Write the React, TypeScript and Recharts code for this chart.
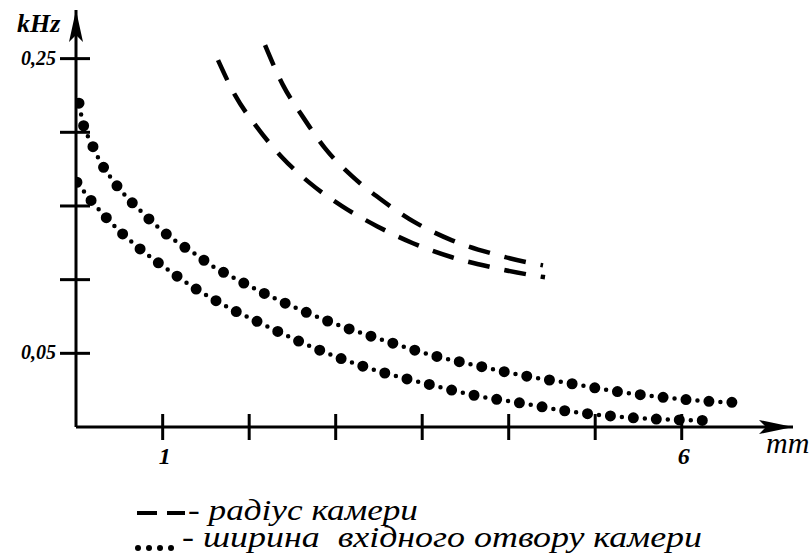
import React from 'react';
import { LineChart, Line, XAxis, YAxis, ReferenceDot } from 'recharts';

const FONT = '"Liberation Serif", Tinos, "Times New Roman", "DejaVu Serif", serif';

// x in mm, y in kHz
const xTicks = [1, 11 / 6, 8 / 3, 3.5, 13 / 3, 31 / 6, 6];
const xTickLabels = ['1', '', '', '', '', '', '6'];
const yTicks = [0.05, 0.1, 0.15, 0.2, 0.25];
const yTickLabels = ['0,05', '', '', '', '0,25'];

// радіус камери (two dashed curves)
const radiusLowX = [1.533, 1.697, 1.908, 2.149, 2.419, 2.727, 3.064, 3.411, 3.787, 4.172, 4.567, 4.683];
const radiusLowY = [0.249, 0.2252, 0.2035, 0.1831, 0.1655, 0.1499, 0.1363, 0.1247, 0.1152, 0.1084, 0.1029, 0.1016];
const radiusHighX = [1.986, 2.159, 2.352, 2.563, 2.824, 3.113, 3.431, 3.787, 4.163, 4.558, 4.664];
const radiusHighY = [0.2592, 0.232, 0.2103, 0.1892, 0.1702, 0.1539, 0.1389, 0.1267, 0.1179, 0.1111, 0.1097];

// ширина вхідного отвору камери (two dotted curves)
const widthHighX = [0.194, 0.232, 0.309, 0.396, 0.512, 0.646, 0.791, 0.955, 1.128, 1.302, 1.485, 1.677, 1.88, 2.294, 2.699, 3.132, 3.566, 4.018, 4.471, 4.924, 5.377, 5.839, 6.292, 6.533];
const widthHighY = [0.2198, 0.2062, 0.1933, 0.1804, 0.1681, 0.1566, 0.1464, 0.1356, 0.126, 0.1179, 0.109, 0.1016, 0.0941, 0.0805, 0.069, 0.0588, 0.0493, 0.0418, 0.035, 0.0296, 0.0241, 0.02, 0.0173, 0.0166];
const widthLowX = [0.174, 0.3, 0.444, 0.598, 0.752, 0.926, 1.099, 1.282, 1.475, 1.668, 1.87, 2.275, 2.689, 3.123, 3.566, 4.009, 4.471, 4.924, 5.377, 5.839, 6.301];
const widthLowY = [0.1661, 0.1546, 0.143, 0.1321, 0.1226, 0.1131, 0.1043, 0.0954, 0.0873, 0.0798, 0.073, 0.0594, 0.0472, 0.037, 0.0289, 0.0214, 0.016, 0.0105, 0.0071, 0.0051, 0.0044];

const X_DOMAIN: [number, number] = [0.165, 7.072];
const Y_DOMAIN: [number, number] = [0, 0.283];

const toPoints = (xs: number[], ys: number[]) => xs.map((x, i) => ({ x, y: ys[i] }));

const radiusLow = toPoints(radiusLowX, radiusLowY);
const radiusHigh = toPoints(radiusHighX, radiusHighY);
const widthHigh = toPoints(widthHighX, widthHighY);
const widthLow = toPoints(widthLowX, widthLowY);

const boldItalic = { fontFamily: FONT, fontWeight: 'bold' as const, fontStyle: 'italic' as const };
const italic = { fontFamily: FONT, fontWeight: 'normal' as const, fontStyle: 'italic' as const, whiteSpace: 'pre' as const };

function XTick(props: any) {
  const { x, y, payload } = props;
  const label = xTickLabels[xTicks.indexOf(payload.value)] || '';
  return (
    <g>
      <line x1={x} x2={x} y1={y - 13} y2={y + 13} stroke="#000" strokeWidth={3} />
      {label && (
        <text x={x + 2} y={y + 37} textAnchor="middle" fontSize={24} fill="#000" style={boldItalic}>
          {label}
        </text>
      )}
    </g>
  );
}

function YTick(props: any) {
  const { x, y, payload } = props;
  const label = yTickLabels[yTicks.indexOf(payload.value)] || '';
  return (
    <g>
      <line x1={x - 16} x2={x + 14} y1={y} y2={y} stroke="#000" strokeWidth={3} />
      {label && (
        <text x={x - 20} y={y + 6} textAnchor="end" fontSize={20} fill="#000" style={boldItalic}>
          {label}
        </text>
      )}
    </g>
  );
}

const arrowRight = (p: any) => (
  <polygon points={`${p.cx},${p.cy} ${p.cx - 34},${p.cy - 7} ${p.cx - 27},${p.cy} ${p.cx - 34},${p.cy + 7}`} fill="#000" />
);
const arrowUp = (p: any) => (
  <polygon points={`${p.cx},${p.cy} ${p.cx - 7},${p.cy + 32} ${p.cx},${p.cy + 25} ${p.cx + 7},${p.cy + 32}`} fill="#000" />
);

export default function App() {
  return (
    <div style={{ position: 'absolute', left: 0, top: 0, width: 811, height: 555, background: '#fff' }}>
      <LineChart width={811} height={555} margin={{ top: 10, right: 18, bottom: 0, left: 0 }}>
        <XAxis
          type="number"
          dataKey="x"
          domain={X_DOMAIN}
          allowDataOverflow
          ticks={xTicks}
          interval={0}
          height={128}
          tickSize={0}
          tickMargin={0}
          tickLine={false}
          axisLine={{ stroke: '#000', strokeWidth: 3 }}
          tick={<XTick />}
          label={({ viewBox }: any) => (
            <text x={viewBox.x + viewBox.width - 27} y={viewBox.y + 26} fontSize={30} fill="#000" style={italic}>
              mm
            </text>
          )}
        />
        <YAxis
          type="number"
          domain={Y_DOMAIN}
          allowDataOverflow
          ticks={yTicks}
          interval={0}
          width={76}
          tickSize={0}
          tickMargin={0}
          tickLine={false}
          axisLine={{ stroke: '#000', strokeWidth: 3 }}
          tick={<YTick />}
          label={({ viewBox }: any) => (
            <text x={viewBox.x + viewBox.width - 59} y={viewBox.y + 22} fontSize={26} fill="#000" style={boldItalic}>
              kHz
            </text>
          )}
        />
        <Line data={radiusLow} dataKey="y" type="monotone" stroke="#000" strokeWidth={4.5} strokeDasharray="22 15" dot={false} activeDot={false} isAnimationActive={false} />
        <Line data={radiusHigh} dataKey="y" type="monotone" stroke="#000" strokeWidth={4.5} strokeDasharray="22 15" dot={false} activeDot={false} isAnimationActive={false} />
        <Line data={widthHigh} dataKey="y" type="monotone" stroke="#000" strokeWidth={4.5} strokeDasharray="0 11.5" strokeLinecap="round" dot={false} activeDot={false} isAnimationActive={false} />
        <Line data={widthHigh} dataKey="y" type="monotone" stroke="#000" strokeWidth={11} strokeDasharray="0 23" strokeLinecap="round" dot={false} activeDot={false} isAnimationActive={false} />
        <Line data={widthLow} dataKey="y" type="monotone" stroke="#000" strokeWidth={4.5} strokeDasharray="0 11.5" strokeLinecap="round" dot={false} activeDot={false} isAnimationActive={false} />
        <Line data={widthLow} dataKey="y" type="monotone" stroke="#000" strokeWidth={11} strokeDasharray="0 23" strokeLinecap="round" dot={false} activeDot={false} isAnimationActive={false} />
        <ReferenceDot x={X_DOMAIN[1]} y={Y_DOMAIN[0]} ifOverflow="visible" shape={arrowRight} />
        <ReferenceDot x={X_DOMAIN[0]} y={Y_DOMAIN[1]} ifOverflow="visible" shape={arrowUp} />
      </LineChart>
      <svg width={811} height={75} style={{ position: 'absolute', left: 0, top: 480 }}>
        <line x1={137} x2={157} y1={33} y2={33} stroke="#000" strokeWidth={4} />
        <line x1={167} x2={185} y1={33} y2={33} stroke="#000" strokeWidth={4} />
        <text x={188} y={40} fontSize={30} fill="#000" style={italic} textLength={230} lengthAdjust="spacingAndGlyphs">
          - радіус камери
        </text>
        {[138, 149, 160, 171].map((cx) => (
          <circle key={cx} cx={cx} cy={68} r={3} fill="#000" />
        ))}
        <text x={182} y={67} fontSize={30} fill="#000" style={italic} textLength={520} lengthAdjust="spacingAndGlyphs">
          - ширина  вхідного отвору камери
        </text>
      </svg>
    </div>
  );
}
